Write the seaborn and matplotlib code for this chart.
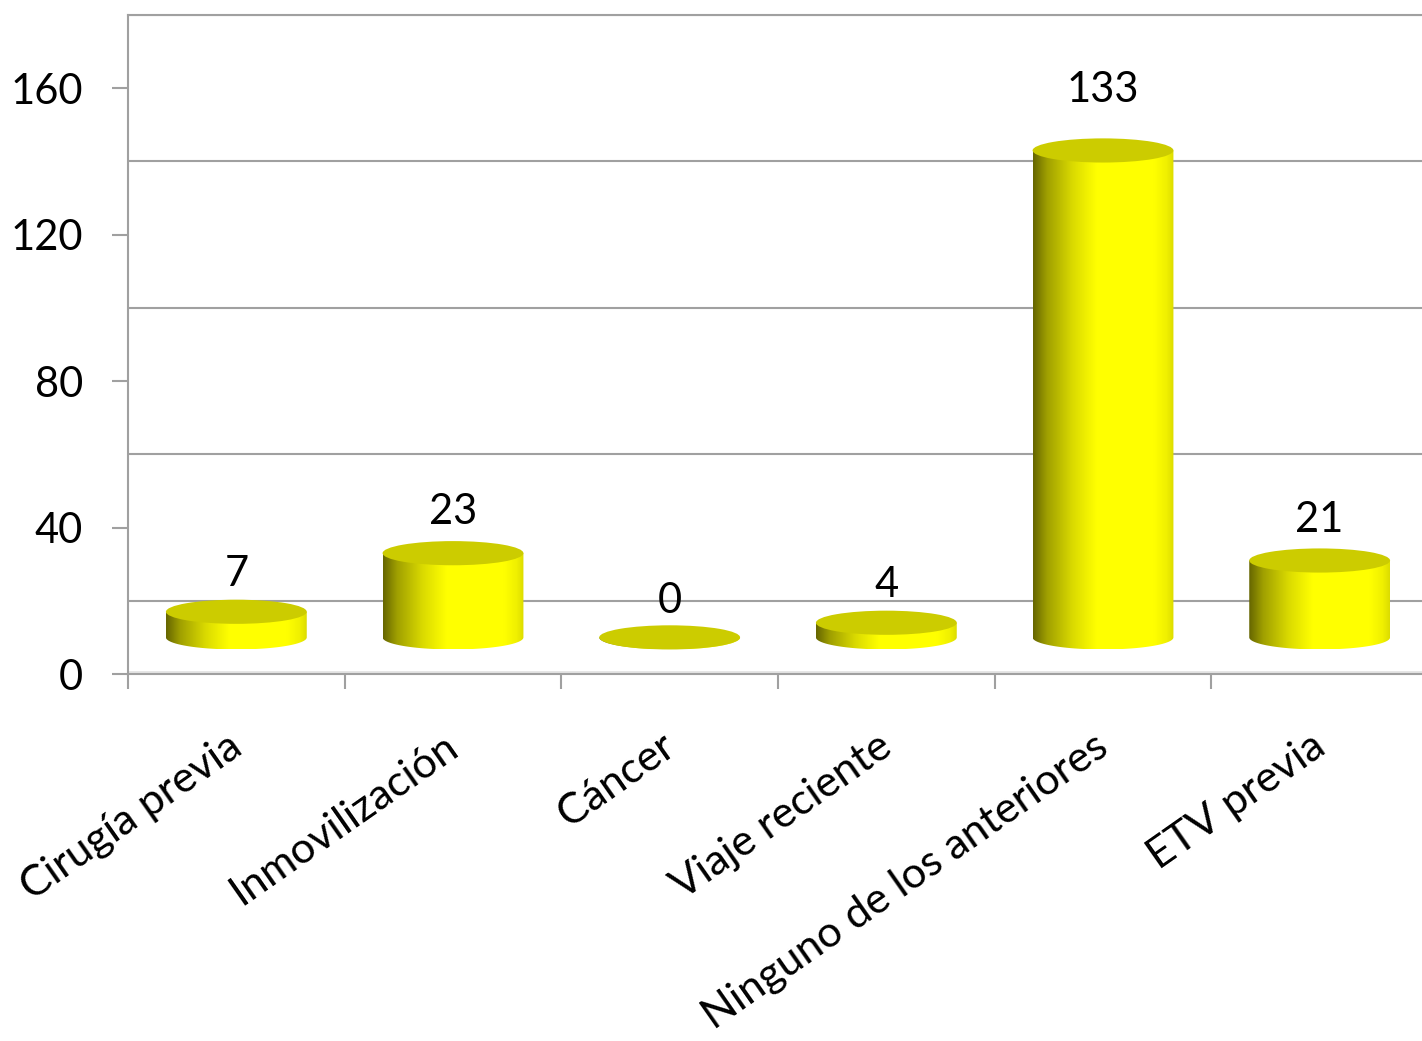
import numpy as np
import matplotlib
matplotlib.use("Agg")
import matplotlib.pyplot as plt
import seaborn as sns
import pandas as pd
from matplotlib.patches import Ellipse, PathPatch
from matplotlib.path import Path
from matplotlib.colors import LinearSegmentedColormap
import matplotlib.transforms as mtransforms

# ---- data ----
categories = ["Cirugía previa", "Inmovilización", "Cáncer", "Viaje reciente",
              "Ninguno de los anteriores", "ETV previa"]
values = [7, 23, 0, 4, 133, 21]
y_ticks = [0, 40, 80, 120, 160]

# ---- style ----
sns.set_theme(style="white")
plt.rcParams['font.family'] = ['Lato', 'DejaVu Sans']

GRAY = "#A0A0A0"
BASE = 10        # depth offset of the cylinder floor (3D look)
BAR_W = 0.65
EH = 3.3         # semi-height of cylinder ellipses (data units)
FS = 30
FS_X = 31

fig = plt.figure(figsize=(14.22, 10.41), dpi=100)
ax = fig.add_axes([128 / 1422, 367 / 1041, 1300 / 1422, 659 / 1041])

df = pd.DataFrame({"cat": categories, "val": values})
sns.barplot(data=df, x="cat", y="val", order=categories, width=BAR_W,
            color="#FFFF00", saturation=1, errorbar=None, bottom=BASE,
            linewidth=0, ax=ax, zorder=3)

cmap = LinearSegmentedColormap.from_list(
    "cyl", [(0.0, "#666600"), (0.10, "#a0a000"), (0.28, "#dada00"),
            (0.45, "#ffff00"), (0.86, "#ffff00"), (0.95, "#f0f000"),
            (1.0, "#dcdc00")])
grad = np.linspace(0, 1, 256).reshape(1, -1)

bars = list(ax.patches)
for bar in bars:
    x0, w = bar.get_x(), bar.get_width()
    y0, h = bar.get_y(), bar.get_height()
    cx = x0 + w / 2
    t = np.linspace(0, -np.pi, 80)
    arc = np.column_stack([cx + (w / 2) * np.cos(t), y0 + EH * np.sin(t)])
    verts = np.vstack([[(x0, y0 + h), (x0 + w, y0 + h), (x0 + w, y0)], arc,
                       [(x0, y0 + h)]])
    clip = PathPatch(Path(verts), transform=ax.transData,
                     facecolor="none", edgecolor="none")
    ax.add_patch(clip)
    im = ax.imshow(grad, cmap=cmap, extent=[x0, x0 + w, y0 - EH, y0 + h],
                   aspect="auto", zorder=3.5, interpolation="bilinear")
    im.set_clip_path(clip)
    bar.set_visible(False)
    top = Ellipse((cx, y0 + h), w, 2 * EH, facecolor="#CCCC00",
                  edgecolor="none", zorder=4)
    ax.add_patch(top)

# data labels
for i, v in enumerate(values):
    ax.text(i, v * 1.05 + 20, str(v), ha="center", va="center",
            fontsize=FS, color="black", zorder=5)

# back-wall gridlines
for tk in y_ticks:
    ax.axhline(tk + 2 * BASE, color=GRAY, lw=1.5, zorder=1)
ax.axhline(0.6, color="#E4E4E4", lw=2, zorder=1)

ax.set_xlim(-0.5, len(categories) - 0.5)
ax.set_ylim(0, 180)
ax.set_yticks(y_ticks)
ax.set_yticklabels([str(v) for v in y_ticks])
ax.set_xticks(range(len(categories)))
ax.set_xticklabels(categories, rotation=35, ha="right")
ax.set_xticks(np.arange(-0.5, len(categories), 1), minor=True)
ax.set_xlabel("")
ax.set_ylabel("")

ax.tick_params(axis="y", which="major", left=True, length=11.5, width=1.5,
               color=GRAY, pad=21, labelsize=FS, labelcolor="black")
ax.tick_params(axis="x", which="major", bottom=True, length=0, pad=38,
               labelsize=FS_X, labelcolor="black")
ax.tick_params(axis="x", which="minor", bottom=True, length=11, width=1.5,
               color=GRAY)

for lab in ax.get_xticklabels():
    lab.set_transform(lab.get_transform() +
                      mtransforms.ScaledTranslation(12 / 100, 0, fig.dpi_scale_trans))

for s in ["left", "top", "bottom"]:
    ax.spines[s].set_visible(True)
    ax.spines[s].set_color(GRAY)
    ax.spines[s].set_linewidth(1.5)
ax.spines["right"].set_visible(False)

fig.savefig("out.png", dpi=100, facecolor="white")
